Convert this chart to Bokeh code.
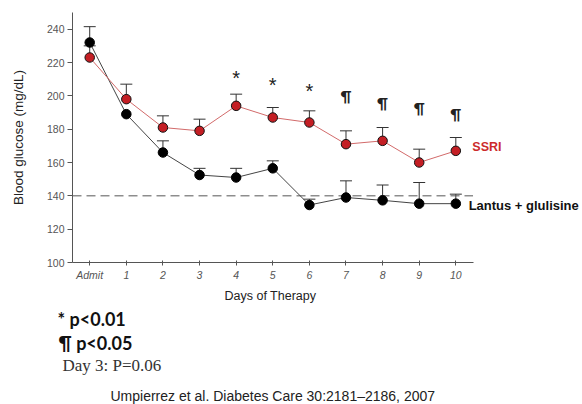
import math
from bokeh.plotting import figure
from bokeh.models import ColumnDataSource, Range1d, FixedTicker, Whisker, TeeHead, Title
from bokeh.core.properties import value
from bokeh.embed import file_html
from bokeh.resources import INLINE

# ---- data ----
day_labels = ["Admit", "1", "2", "3", "4", "5", "6", "7", "8", "9", "10"]
day_x = [0, 1, 2, 3, 4, 5, 6, 7, 8, 9, 10]
ssri = [223, 198, 181, 179, 194, 187, 184, 171, 173, 160, 167]
ssri_upper = [230, 207, 188, 186, 201, 193, 191, 179, 181, 168, 175]
lantus = [232, 189, 166, 152.5, 151, 156.5, 134.5, 139, 137.3, 135.3, 135.3]
lantus_upper = [241.5, float("nan"), 173, 156.5, 156.5, 161, 138, 149, 146.5, 148, 141]
target = 140
sig_x = [4, 5, 6, 7, 8, 9, 10]
sig_sym = ["*", "*", "*", "\u00b6", "\u00b6", "\u00b6", "\u00b6"]
sig_y = [213, 209, 205.3, 200, 196, 192.6, 189]
y_ticks = [100, 120, 140, 160, 180, 200, 220, 240]
series_names = ["SSRI", "Lantus + glulisine"]
x_title = "Days of Therapy"
y_title = "Blood glucose (mg/dL)"
footnotes = ["* p<0.01", "\u00b6 p<0.05", "Day 3: P=0.06"]
citation = "Umpierrez et al. Diabetes Care 30:2181\u20132186, 2007"

SANS = "Liberation Sans"
X0, X1 = -0.47, 10.47          # extent of the drawn x axis
XEND = 13.46                   # frame continues right for the series labels

p = figure(frame_width=510, frame_height=250,
           min_border_left=72, min_border_right=0, min_border_top=12, min_border_bottom=0,
           x_range=Range1d(X0, XEND), y_range=Range1d(100, 250),
           output_backend="svg", toolbar_location=None, outline_line_color=None)
p.grid.visible = False

# axes
p.xaxis.bounds = (X0, X1)
p.xaxis.ticker = FixedTicker(ticks=day_x)
p.xaxis.major_label_overrides = {x: lab for x, lab in zip(day_x, day_labels)}
p.xaxis.major_label_text_font_style = "italic"
p.xaxis.minor_tick_line_color = None
p.xaxis.major_tick_in = 2
p.xaxis.major_tick_out = 3
p.xaxis.major_label_standoff = 3
p.yaxis.ticker = FixedTicker(ticks=y_ticks)
p.yaxis.minor_tick_line_color = None
p.yaxis.major_tick_in = 0
p.yaxis.major_tick_out = 5
p.yaxis.major_label_standoff = 3
p.yaxis.axis_label = y_title
p.yaxis.axis_label_standoff = 18
for ax in (p.xaxis, p.yaxis):
    ax.axis_line_color = "#555555"
    ax.major_tick_line_color = "#555555"
    ax.major_label_text_font = SANS
    ax.major_label_text_font_size = "10.5px"
    ax.major_label_text_color = "#555555"
    ax.axis_label_text_font = SANS
    ax.axis_label_text_font_style = "normal"
    ax.axis_label_text_color = "#222222"
p.yaxis.axis_label_text_font_size = "13.5px"

# x-axis title, footnotes and citation stacked under the axis (titles are not clipped)
below = [
    dict(text=x_title, offset=152, text_font=SANS, text_font_size="12.5px",
         text_font_style="normal", text_color="#222222", standoff=6),
    dict(text=footnotes[0], offset=-15, text_font="Lato", text_font_size="18px",
         text_font_style="bold", text_color="#111111", standoff=0),
    dict(text=footnotes[1], offset=-14, text_font="Lato", text_font_size="18px",
         text_font_style="bold", text_color="#111111", standoff=0),
    dict(text=footnotes[2], offset=-10, text_font="Liberation Serif",
         text_font_size="17px", text_font_style="normal", text_color="#333333", standoff=0),
    dict(text=citation, offset=38, text_font=SANS, text_font_size="14px",
         text_font_style="normal", text_color="#222222", standoff=22),
]
for kw in below:
    p.add_layout(Title(align="left", **kw), "below")

# target line across the drawn x extent
p.line([X0, X1], [target, target], line_color="#555555", line_dash="9 5", line_width=1)

# error bars (upper only)
src_s = ColumnDataSource(dict(x=day_x, y=ssri, up=ssri_upper))
keep = [i for i, v in enumerate(lantus_upper) if not math.isnan(v)]
src_l = ColumnDataSource(dict(x=[day_x[i] for i in keep], y=[lantus[i] for i in keep],
                              up=[lantus_upper[i] for i in keep]))
for src in (src_l, src_s):
    p.add_layout(Whisker(source=src, base="x", lower="y", upper="up",
                         line_color="#333333", line_width=1,
                         upper_head=TeeHead(size=12, line_color="#333333", line_width=1),
                         lower_head=None))

# lines + markers
p.line(day_x, lantus, line_color="#444444", line_width=1)
p.line(day_x, ssri, line_color="#d26a6a", line_width=1)
p.scatter(day_x, lantus, size=9.5, fill_color="black", line_color="black")
p.scatter(day_x, ssri, size=9.5, fill_color="#c41e24", line_color="#111111", line_width=1)

# significance markers
star_i = [i for i, s in enumerate(sig_sym) if s == "*"]
pil_i = [i for i, s in enumerate(sig_sym) if s != "*"]
p.text(x=[sig_x[i] for i in star_i], y=[sig_y[i] for i in star_i],
       text=[sig_sym[i] for i in star_i], text_align="center", text_baseline="middle",
       y_offset=4, text_font=value(SANS), text_font_size="20px", text_color="#222222")
p.text(x=[sig_x[i] for i in pil_i], y=[sig_y[i] for i in pil_i],
       text=[sig_sym[i] for i in pil_i], text_align="center", text_baseline="middle",
       text_font=value("Lato"), text_font_style="bold", text_font_size="15px",
       text_color="#222222")

# series labels (right of the last day, inside the extended frame)
p.text(x=[10.45], y=[169.4], text=[series_names[0]], text_baseline="middle",
       text_font=value(SANS), text_font_style="bold", text_font_size="12.5px",
       text_color="#cc2b2b")
p.text(x=[10.35], y=[134.3], text=[series_names[1]], text_baseline="middle",
       text_font=value(SANS), text_font_style="bold", text_font_size="13px",
       text_color="#111111")

open("out.html", "w").write(file_html(p, INLINE))
